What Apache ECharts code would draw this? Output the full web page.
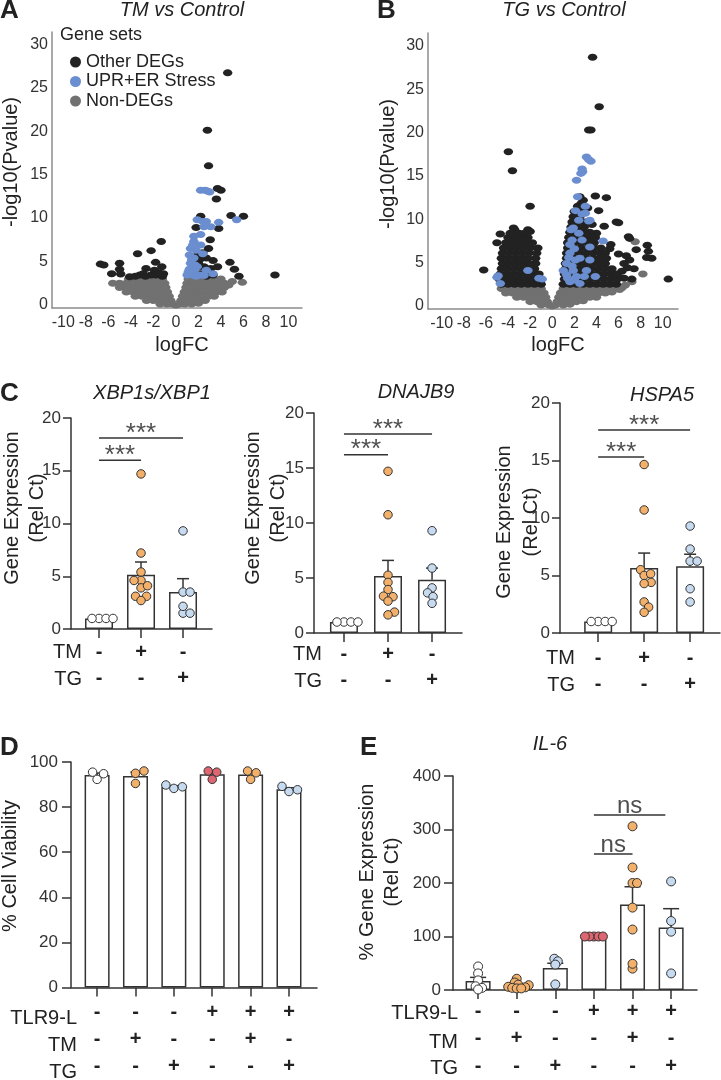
<!DOCTYPE html>
<html><head><meta charset="utf-8">
<script src="https://cdn.jsdelivr.net/npm/echarts@6.0.0/dist/echarts.min.js"></script>
<style>html,body{margin:0;padding:0;background:#fff}#c{width:721px;height:1080px}</style>
</head><body><div id="c"></div>
<script>
// ---------------- DATA ----------------
const volcanoXTicks = [-10,-8,-6,-4,-2,0,2,4,6,8,10];
const volcanoYTicks = [0,5,10,15,20,25,30];
const geneSetNames = ['Other DEGs','UPR+ER Stress','Non-DEGs'];

// Panel A: TM vs Control  [logFC, -log10(P)]
const aOtherDEG = [
 [4.6,26.7],[2.8,20.1],[2.9,16.0],[3.7,13.4],[4.0,13.2],[3.6,12.2],[2.2,10.2],[4.9,10.3],[6.0,10.2],[3.8,8.8],[1.8,8.9],[3.05,7.5],[2.9,6.5],
 [1.8,5.6],[2.1,5.2],[2.7,5.4],[2.1,4.4],[3.3,5.1],[2.5,4.4],[3.1,4.2],[2.2,3.6],[3.3,3.45],[2.7,3.3],[3.7,4.4],[1.5,4.0],[2.4,6.0],[2.0,4.8],[3.0,3.8],[2.6,3.6],
 [4.8,4.9],[5.2,4.1],[5.6,3.3],[8.8,3.45],
 [-6.7,4.7],[-6.4,4.6],[-5.7,3.6],[-5.0,4.8],[-5.0,4.1],[-4.9,3.55],[-4.1,3.25],[-3.4,5.9],[-2.2,6.25],[-1.3,7.3],[-2.65,4.2],[-1.8,4.9],[-1.25,4.4],
 [-2.2,3.45],[-3.2,3.45],[-1.8,3.45],[-1.2,3.3],[-2.7,3.3],[-1.9,4.0],[-1.5,3.7],[-2.9,3.6],[-3.6,3.3],[-1.1,3.6]
];
const aUPR = [
 [2.2,13.2],[2.6,13.2],[2.8,13.1],[3.0,13.0],
 [1.9,9.8],[2.4,9.6],[2.7,9.6],[2.5,9.0],[3.1,9.0],[3.8,9.5],[5.4,9.8],
 [2.2,8.1],[1.6,7.9],[1.6,7.3],[2.2,6.9],[1.3,6.5],[1.8,6.3],[1.2,5.75],[1.6,5.4],[2.4,5.9],[1.3,4.8],[1.9,4.4],[1.2,4.1],[1.6,3.8],
 [1.0,3.45],[1.5,3.45],[2.1,3.45],[2.7,4.0],[3.3,3.6],[1.5,6.9],[1.4,5.2],[1.7,4.6],[1.1,3.8],[1.8,3.3],[2.5,3.4]
];
const aNonDEG = [
 [-4.2,3.0],[-3.6,3.0],[-3.0,3.0],[-2.4,3.0],[-1.8,3.0],[-1.2,3.0],
 [-5.6,2.5],[-5.0,2.5],[-4.4,2.5],[-3.8,2.5],[-3.2,2.5],[-2.6,2.5],[-2.0,2.5],[-1.5,2.5],[-1.0,2.5],
 [-5.0,2.0],[-4.4,2.0],[-3.8,2.0],[-3.2,2.0],[-2.6,2.0],[-2.0,2.0],[-1.4,2.0],[-0.9,2.0],
 [-4.4,1.5],[-3.8,1.5],[-3.2,1.5],[-2.6,1.5],[-2.0,1.5],[-1.4,1.5],[-0.75,1.5],
 [-3.6,1.0],[-3.0,1.0],[-2.4,1.0],[-1.8,1.0],[-1.2,1.0],[-0.6,1.0],
 [-2.6,0.5],[-2.0,0.5],[-1.4,0.5],[-0.9,0.5],[-0.45,0.5],
 [-1.4,0.1],[-0.8,0.1],[-0.3,0.1],[0.0,0.0],
 [1.1,3.0],[1.6,3.0],[2.2,3.0],[2.8,3.0],[3.4,3.0],[4.0,3.0],
 [1.0,2.5],[1.5,2.5],[2.0,2.5],[2.6,2.5],[3.2,2.5],[3.8,2.5],[4.3,2.5],[5.0,2.7],[5.9,2.6],[4.7,2.3],
 [0.9,2.0],[1.4,2.0],[2.0,2.0],[2.6,2.0],[3.2,2.0],[3.8,2.0],[4.3,2.0],
 [0.75,1.5],[1.2,1.5],[1.8,1.5],[2.4,1.5],[3.0,1.5],[3.6,1.5],[4.1,1.5],
 [0.6,1.0],[1.1,1.0],[1.7,1.0],[2.3,1.0],[2.9,1.0],[3.4,1.0],
 [0.45,0.5],[0.9,0.5],[1.5,0.5],[2.1,0.5],[2.6,0.5],
 [0.3,0.1],[0.8,0.1],[1.4,0.1],[2.0,0.2]
];

// Panel B: TG vs Control
const bOtherDEG = [
 [3.65,28.7],[4.25,23.0],[3.3,20.3],[3.5,20.3],[-3.97,17.8],[-3.6,15.6],[-2.0,11.5],[3.9,12.7],[4.9,12.5],[2.5,12.6],[2.8,12.2],[4.2,11.0],
 [5.8,9.7],[6.0,9.6],[4.7,9.2],[6.9,8.0],[7.0,7.8],[8.6,7.0],[8.7,6.3],[8.55,5.6],[9.0,5.5],[7.6,6.5],[6.7,5.8],[7.0,5.3],[6.5,4.9],[6.8,4.4],
 [5.2,6.6],[10.5,3.1],[-6.2,4.15],[-5.0,7.3],[-4.7,8.3],[-3.5,9.0],[-3.4,8.8],[-2.2,8.8],[-2.0,8.6],[3.2,11.3],[2.6,11.8],[3.6,9.4],[4.0,8.4],
 [5.3,7.1],[6.0,6.0],[6.3,4.0],[5.9,3.5],[6.5,3.2],[7.2,3.1],[7.4,4.3],
 [-4.6,2.5],[-4.0,2.5],[-3.4,2.5],[-2.8,2.5],[-2.2,2.5],[-1.6,2.5],[-1.0,2.5],
 [-4.8,3.1],[-4.2,3.1],[-3.6,3.1],[-3.0,3.1],[-2.4,3.1],[-1.8,3.1],[-1.2,3.1],
 [-4.7,3.7],[-4.1,3.7],[-3.5,3.7],[-2.9,3.7],[-2.3,3.7],[-1.7,3.7],[-1.2,3.7],
 [-4.6,4.3],[-4.0,4.3],[-3.4,4.3],[-2.8,4.3],[-2.2,4.3],[-1.6,4.3],
 [-4.5,4.9],[-3.9,4.9],[-3.3,4.9],[-2.7,4.9],[-2.1,4.9],[-1.5,4.9],
 [-4.6,5.5],[-4.0,5.5],[-3.4,5.5],[-2.8,5.5],[-2.2,5.5],[-1.5,5.5],
 [-4.5,6.1],[-3.9,6.1],[-3.3,6.1],[-2.7,6.1],[-2.1,6.1],[-1.4,6.1],
 [-4.4,6.7],[-3.8,6.7],[-3.2,6.7],[-2.6,6.7],[-2.0,6.7],[-1.3,6.7],
 [-4.2,7.3],[-3.6,7.3],[-3.0,7.3],[-2.4,7.3],[-1.8,7.3],
 [-4.0,7.9],[-3.4,7.9],[-2.8,7.9],[-2.2,7.9],
 [-3.8,8.4],[-3.0,8.4],[-2.5,8.4],
 [1.0,2.5],[1.6,2.5],[2.2,2.5],[2.8,2.5],[3.4,2.5],[4.0,2.5],[4.6,2.5],[5.2,2.5],[5.8,2.5],
 [1.1,3.1],[1.7,3.1],[2.3,3.1],[2.9,3.1],[3.5,3.1],[4.1,3.1],[4.7,3.1],[5.3,3.1],[5.9,3.1],
 [1.1,3.7],[1.7,3.7],[2.3,3.7],[2.9,3.7],[3.5,3.7],[4.1,3.7],[4.7,3.7],[5.3,3.7],[5.8,3.7],
 [1.2,4.3],[1.8,4.3],[2.4,4.3],[3.0,4.3],[3.6,4.3],[4.2,4.3],[4.8,4.3],[5.4,4.3],
 [1.2,4.9],[1.8,4.9],[2.4,4.9],[3.0,4.9],[3.6,4.9],[4.2,4.9],[4.8,4.9],
 [1.3,5.5],[1.9,5.5],[2.5,5.5],[3.1,5.5],[3.7,5.5],[4.3,5.5],[4.9,5.5],
 [1.3,6.1],[1.9,6.1],[2.5,6.1],[3.1,6.1],[3.7,6.1],[4.3,6.1],[4.8,6.1],
 [1.4,6.7],[2.0,6.7],[2.6,6.7],[3.2,6.7],[3.8,6.7],[4.4,6.7],
 [1.4,7.3],[2.0,7.3],[2.6,7.3],[3.2,7.3],[3.8,7.3],
 [1.5,7.9],[2.1,7.9],[2.7,7.9],[3.3,7.9],[3.9,7.9],
 [1.6,8.5],[2.2,8.5],[2.8,8.5],[3.4,8.5],
 [1.7,9.1],[2.3,9.1],[2.9,9.1],
 [1.8,9.7],[2.4,9.7],[3.0,9.7],
 [1.9,10.3],[2.5,10.3],[2.0,10.9],[2.6,10.9],[2.3,11.5],[2.7,11.5]
];
const bUPR = [
 [3.1,17.2],[3.3,16.9],[3.5,16.7],[2.7,15.8],[2.75,15.5],[2.6,15.3],[2.2,14.5],[2.3,12.6],[2.1,11.0],[3.0,11.5],[3.0,10.7],[2.7,10.6],[2.4,9.9],[3.3,9.8],[3.4,9.9],
 [1.7,8.8],[1.9,9.0],[2.4,8.4],[1.8,7.6],[2.7,7.6],[3.4,6.8],[4.6,7.5],[1.6,6.1],[2.1,5.3],[1.3,4.9],[2.5,5.5],[1.9,4.1],[1.3,3.6],[2.2,3.4],
 [2.5,2.6],[1.6,2.8],[3.9,3.4],[3.1,4.1],[1.0,4.1],[1.5,5.6],[1.8,4.6],[1.4,3.2],[2.0,3.0],[2.9,3.4],[3.4,5.3],[2.0,6.6],[1.6,7.1],
 [-4.9,3.5],[-5.0,3.3],[-4.7,2.6],[-2.2,4.1],[-1.2,3.2],[-0.9,3.1]
];
const bNonDEG = [
 [-4.6,2.0],[-4.0,2.0],[-3.4,2.0],[-2.8,2.0],[-2.2,2.0],[-1.6,2.0],[-1.0,2.0],
 [-4.2,1.5],[-3.6,1.5],[-3.0,1.5],[-2.4,1.5],[-1.8,1.5],[-1.2,1.5],[-0.75,1.5],
 [-3.2,1.0],[-2.6,1.0],[-2.0,1.0],[-1.4,1.0],[-1.0,1.0],[-0.6,1.0],
 [-2.0,0.5],[-1.4,0.5],[-0.9,0.5],[-0.45,0.5],
 [-1.0,0.1],[-0.3,0.1],[0.0,0.0],[0.3,0.1],[1.0,0.1],[1.6,0.2],
 [1.0,2.0],[1.6,2.0],[2.2,2.0],[2.8,2.0],[3.4,2.0],[4.0,2.0],[4.6,2.0],[5.2,2.0],[5.8,2.0],[6.3,2.1],
 [0.75,1.5],[1.2,1.5],[1.8,1.5],[2.4,1.5],[3.0,1.5],[3.6,1.5],[4.2,1.5],[4.8,1.5],[5.4,1.6],[6.1,1.9],
 [0.6,1.0],[1.1,1.0],[1.6,1.0],[2.2,1.0],[2.8,1.0],[3.4,1.0],[4.0,1.0],
 [0.45,0.5],[1.0,0.5],[1.6,0.5],[2.2,0.5],[2.8,0.6],
 [7.5,7.4],[8.2,3.7],[6.6,2.4],[7.2,2.8]
];

// Panel C: qPCR (Rel Ct)
const cRowNames = ['TM','TG'];
const cRowTM = ['-','+','-'];
const cRowTG = ['-','-','+'];
const cYTicks = [0,5,10,15,20];
const xbp1Ctrl = [1,1,1,1];
const xbp1TM = [14.7,7.2,5.4,4.6,4.6,3.9,4.1,3.1,3.1,2.7];
const xbp1TG = [9.3,3.5,3.5,1.5,2.15,1.5];
const xbp1Mean = [1.0,5.15,3.5];
const xbp1Sem = [0,1.2,1.27];
const xbp1Sig = [[0,1,16.0,'***'],[0,2,18.1,'***']];
const dnajb9Ctrl = [1,1,1,1];
const dnajb9TM = [14.7,10.75,5.25,4.6,3.95,3.35,3.3,2.9,1.9,1.65];
const dnajb9TG = [9.3,5.9,4.1,3.65,3.3,2.7];
const dnajb9Mean = [1.0,5.18,4.85];
const dnajb9Sem = [0,1.42,1.05];
const dnajb9Sig = [[0,1,16.2,'***'],[0,2,18.1,'***']];
const hspa5Ctrl = [1,1,1,1];
const hspa5TM = [14.65,10.7,5.5,5.0,5.15,4.4,4.3,2.7,2.25,1.8];
const hspa5TG = [9.3,7.3,6.25,6.25,3.85,2.7];
const hspa5Mean = [1.0,5.65,5.8];
const hspa5Sem = [0,1.3,1.05];
const hspa5Sig = [[0,1,15.3,'***'],[0,2,17.65,'***']];

// Panel D: viability
const dRowNames = ['TLR9-L','TM','TG'];
const rowTLR9 = ['-','-','-','+','+','+'];
const rowTM6 = ['-','+','-','-','+','-'];
const rowTG6 = ['-','-','+','-','-','+'];
const dPoints = [[92.3,95.5,94.8],[96,90.5,95],[88.3,89.8,89],[92.3,96,95.5],[92.3,96,95.2],[86.9,89.2,87.7]];
const dMean = [94.2,93.8,89.0,94.6,94.5,87.9];
const dSem = [0.9,1.7,0.5,1.2,1.2,0.7];

// Panel E: IL-6
const ePoints = [[44,31,18,7,4,1],[21,14,10,9,6,5,4,3,3],[58.5,53.6,47.5,10.5],[100,100,100,100,100],[306,229,200,200,154,113,40,49],[203,129,109,31]];
const eMean = [16.6,9,41,100,160,117];
const eSem = [7,2.5,9,0,33,35];
const eSig = [[3,4,254,'ns'],[3,4.85,327,'ns']];

// ---------------- STYLE / LAYOUT ----------------
const FONT = '"Liberation Sans", Arial, Helvetica, sans-serif';
const INK = '#222', AX = '#333';
const C_BLACK = '#222222', C_BLUE = '#6A8ECF', C_GRAY = '#717171';
const C_WHITE = '#ffffff', C_OR = '#F2B06B', C_LB = '#C6DAF0', C_RED = '#DE6670';

const grids = [], xAxes = [], yAxes = [], series = [], graphics = [];

function addVolcano(g, non, other, upr){
  const gi = grids.length;
  grids.push({left:g.left, top:g.top, width:g.width, height:g.height});
  const line = {show:true, onZero:false, lineStyle:{color:'#8c8c8c', width:1.5}};
  xAxes.push({type:'value', gridIndex:gi, min:g.xmin, max:g.xmax, splitLine:{show:false}, axisLine:line, axisTick:{show:false},
    axisLabel:{customValues:volcanoXTicks, margin:7, fontSize:16, color:'#333', fontFamily:FONT}});
  yAxes.push({type:'value', gridIndex:gi, min:g.ymin, max:g.ymax, splitLine:{show:false}, axisLine:line, axisTick:{show:false},
    axisLabel:{customValues:volcanoYTicks, margin:4, fontSize:16, color:'#333', fontFamily:FONT}});
  const base = {type:'scatter', xAxisIndex:gi, yAxisIndex:gi, symbol:'circle', symbolSize:[9.5,7], clip:false, silent:true};
  series.push(Object.assign({}, base, {name:geneSetNames[2], data:non, itemStyle:{color:C_GRAY, opacity:1}}));
  series.push(Object.assign({}, base, {name:geneSetNames[0], data:other, itemStyle:{color:C_BLACK, opacity:1}}));
  series.push(Object.assign({}, base, {name:geneSetNames[1], data:upr, itemStyle:{color:C_BLUE, opacity:1}}));
}

function swarm(vals, pxPerY, pxPerX, minD){
  const idx = vals.map((v,i)=>i).sort((a,b)=>vals[a]-vals[b]);
  const placed = []; const off = new Array(vals.length).fill(0);
  for (const i of idx){
    const y = vals[i]*pxPerY; let chosen = 0;
    outer: for (let k=0;k<300;k++){
      const cs = k===0 ? [0] : [k*0.5, -k*0.5];
      for (const c of cs){
        if (placed.every(p=>Math.hypot(p[0]-c, p[1]-y) >= minD)){ chosen = c; break outer; }
      }
    }
    placed.push([chosen,y]); off[i] = chosen/pxPerX;
  }
  return off;
}

function addBarPanel(g, groups, means, sems, colors, sigs, rows, yTicks){
  const gi = grids.length;
  grids.push({left:g.left, top:g.top, width:g.width, height:g.height});
  const cats = means.map((m,i)=>i);
  const ls = {color:AX, width:1.5};
  xAxes.push({type:'value', gridIndex:gi, min:g.xmin, max:g.xmax, splitLine:{show:false},
    axisLine:{show:true, onZero:false, lineStyle:ls},
    axisTick:{show:true, customValues:cats, length:9, lineStyle:ls},
    axisLabel:{customValues:cats, margin:g.rowMargin, lineHeight:g.rowLH, fontSize:20, fontWeight:'bold', color:INK, fontFamily:FONT,
      formatter:(v)=>{const i=Math.round(v); return rows.map(r=>r[i]).join('\n');}}});
  yAxes.push({type:'value', gridIndex:gi, min:g.ymin, max:g.ymax, splitLine:{show:false},
    axisLine:{show:true, onZero:false, lineStyle:ls},
    axisTick:{show:true, customValues:yTicks, length:g.tick, lineStyle:ls},
    axisLabel:{customValues:yTicks, margin:g.labMargin, fontSize:g.tickFont, color:'#333', fontFamily:FONT}});
  series.push({type:'bar', xAxisIndex:gi, yAxisIndex:gi, data:means.map((m,i)=>[i,m]), barWidth:g.barW, silent:true, z:2,
    itemStyle:{color:'#fff', borderColor:AX, borderWidth:1.5}});
  series.push({type:'custom', xAxisIndex:gi, yAxisIndex:gi, z:3, silent:true, clip:false,
    data:means.map((m,i)=>[i,m,sems[i]]),
    renderItem:(params, api)=>{
      const x=api.value(0), m=api.value(1), s=api.value(2);
      if (!s) return {type:'group', children:[]};
      const p0=api.coord([x,m]), p1=api.coord([x,m+s]); const cw=g.cap;
      const st={stroke:AX, lineWidth:1.5};
      return {type:'group', children:[
        {type:'line', shape:{x1:p0[0],y1:p0[1],x2:p1[0],y2:p1[1]}, style:st},
        {type:'line', shape:{x1:p1[0]-cw,y1:p1[1],x2:p1[0]+cw,y2:p1[1]}, style:st}]};
    }});
  const pxY = g.height/(g.ymax-g.ymin), pxX = g.width/(g.xmax-g.xmin);
  groups.forEach((vals,gi2)=>{
    const off = swarm(vals, pxY, pxX, g.dot*g.swarmK);
    series.push({type:'scatter', xAxisIndex:gi, yAxisIndex:gi, z:4, clip:false, silent:true, symbolSize:g.dot,
      data:vals.map((v,i)=>[gi2+off[i], v]),
      itemStyle:{color:colors[gi2], borderColor:AX, borderWidth:1, opacity:1}});
  });
  sigs.forEach(s=>{
    series.push({type:'line', xAxisIndex:gi, yAxisIndex:gi, z:5, silent:true, symbol:'none', clip:false,
      data:[[s[0],s[2]],[s[1],s[2]]], lineStyle:{color:AX, width:1.5}});
    series.push({type:'scatter', xAxisIndex:gi, yAxisIndex:gi, z:5, silent:true, symbolSize:1, clip:false,
      data:[[(s[0]+s[1])/2, s[2]]], itemStyle:{color:'rgba(0,0,0,0)'},
      label:{show:true, position:'top', distance:g.sigDist, formatter:()=>s[3], fontSize:g.sigFont, color:INK, fontFamily:FONT}});
  });
}

function txt(text, x, y, o){
  o = o || {};
  const font = (o.italic?'italic ':'normal ') + (o.bold?'bold ':'normal ') + (o.size||20) + 'px ' + FONT;
  graphics.push({type:'text', x:x, y:y, rotation:o.rot||0, silent:true,
    style:{text:text, fill:INK, font:font, textAlign:o.align||'center', align:o.align||'center',
      textVerticalAlign:'middle', verticalAlign:'middle', lineHeight:o.lh||24}});
}

// volcano panels
addVolcano({left:52, top:32, width:250, height:276, xmin:-11.0, xmax:11.2, ymin:-0.35, ymax:31.4}, aNonDEG, aOtherDEG, aUPR);
addVolcano({left:428, top:33, width:250, height:276, xmin:-11.24, xmax:11.38, ymin:-0.35, ymax:31.5}, bNonDEG, bOtherDEG, bUPR);

const cColors = [C_WHITE, C_OR, C_LB];
const cCommon = {ymin:0, ymax:20, barW:28, cap:6, dot:8.5, swarmK:0.78, tick:8, labMargin:10, tickFont:17, rowLH:26.5, sigDist:-9, sigFont:26};
addBarPanel(Object.assign({left:71, top:418, width:141, height:211, xmin:-0.667, xmax:2.69, rowMargin:10}, cCommon),
  [xbp1Ctrl, xbp1TM, xbp1TG], xbp1Mean, xbp1Sem, cColors, xbp1Sig, [cRowTM, cRowTG], cYTicks);
addBarPanel(Object.assign({left:314, top:413, width:148, height:220, xmin:-0.68, xmax:2.68, rowMargin:8}, cCommon),
  [dnajb9Ctrl, dnajb9TM, dnajb9TG], dnajb9Mean, dnajb9Sem, cColors, dnajb9Sig, [cRowTM, cRowTG], cYTicks);
addBarPanel(Object.assign({left:560, top:403, width:160, height:230, xmin:-0.83, xmax:2.65, rowMargin:12}, cCommon),
  [hspa5Ctrl, hspa5TM, hspa5TG], hspa5Mean, hspa5Sem, cColors, hspa5Sig, [cRowTM, cRowTG], cYTicks);

const sixColors = [C_WHITE, C_OR, C_LB, C_RED, C_OR, C_LB];
addBarPanel({left:71, top:762, width:246, height:231, xmin:-0.68, xmax:5.73, ymin:0, ymax:100, barW:25, cap:5, dot:8.5, swarmK:1.0, tick:9, labMargin:13, tickFont:17, rowLH:27, rowMargin:11.5, sigDist:0, sigFont:24},
  dPoints, dMean, dSem, sixColors, [], [rowTLR9, rowTM6, rowTG6], [0,20,40,60,80,100]);
addBarPanel({left:453, top:776, width:244, height:216, xmin:-0.65, xmax:5.67, ymin:0, ymax:400, barW:25, cap:8, dot:9, swarmK:0.45, tick:9, labMargin:12, tickFont:17, rowLH:27.5, rowMargin:7.5, sigDist:-4, sigFont:24},
  ePoints, eMean, eSem, sixColors, eSig, [rowTLR9, rowTM6, rowTG6], [0,100,200,300,400]);

// texts
txt('A', 0, 11, {bold:true, size:26, align:'left'});
txt('B', 377, 11, {bold:true, size:26, align:'left'});
txt('C', 0, 394, {bold:true, size:26, align:'left'});
txt('D', 0, 748, {bold:true, size:26, align:'left'});
txt('E', 360, 748, {bold:true, size:26, align:'left'});
txt('TM vs Control', 182, 10, {italic:true});
txt('TG vs Control', 564, 10, {italic:true});
txt('logFC', 182, 345);
txt('logFC', 558, 345);
txt('-log10(Pvalue)', 11, 162, {rot:Math.PI/2});
txt('-log10(Pvalue)', 388, 164, {rot:Math.PI/2});
txt('Gene sets', 60, 35, {size:18, align:'left'});
txt('XBP1s/XBP1', 152, 393, {italic:true});
txt('DNAJB9', 416, 392, {italic:true});
txt('HSPA5', 662, 395, {italic:true});
txt('IL-6', 550, 744, {italic:true});
txt('Gene Expression\n(Rel Ct)', 24.5, 508, {rot:Math.PI/2, lh:25});
txt('Gene Expression\n(Rel Ct)', 266, 508, {rot:Math.PI/2, lh:25});
txt('Gene Expression\n(Rel Ct)', 517.5, 522, {rot:Math.PI/2, lh:27});
txt('% Cell Viability', 10, 866, {rot:Math.PI/2});
txt('% Gene Expression\n(Rel Ct)', 380, 872, {rot:Math.PI/2, lh:25});
[[82,652.5,679.5],[322,654,681],[575,658.5,685]].forEach(p=>{
  txt(cRowNames[0], p[0], p[1], {align:'right'}); txt(cRowNames[1], p[0], p[2], {align:'right'});
});
[[77,[1018,1045,1072]],[458,[1013,1042,1068]]].forEach(p=>{
  dRowNames.forEach((n,i)=>txt(n, p[0], p[1][i], {align:'right'}));
});

const chart = echarts.init(document.getElementById('c'), null, {renderer:'canvas'});
chart.setOption({
  animation:false, backgroundColor:'#fff',
  textStyle:{fontFamily:FONT},
  legend:{data:geneSetNames, orient:'vertical', left:65, top:47, icon:'circle', itemWidth:11, itemHeight:11, itemGap:-0.5, selectedMode:false,
    textStyle:{fontSize:18, color:INK, lineHeight:20, fontFamily:FONT}},
  grid:grids, xAxis:xAxes, yAxis:yAxes, series:series, graphic:graphics
});
</script></body></html>
